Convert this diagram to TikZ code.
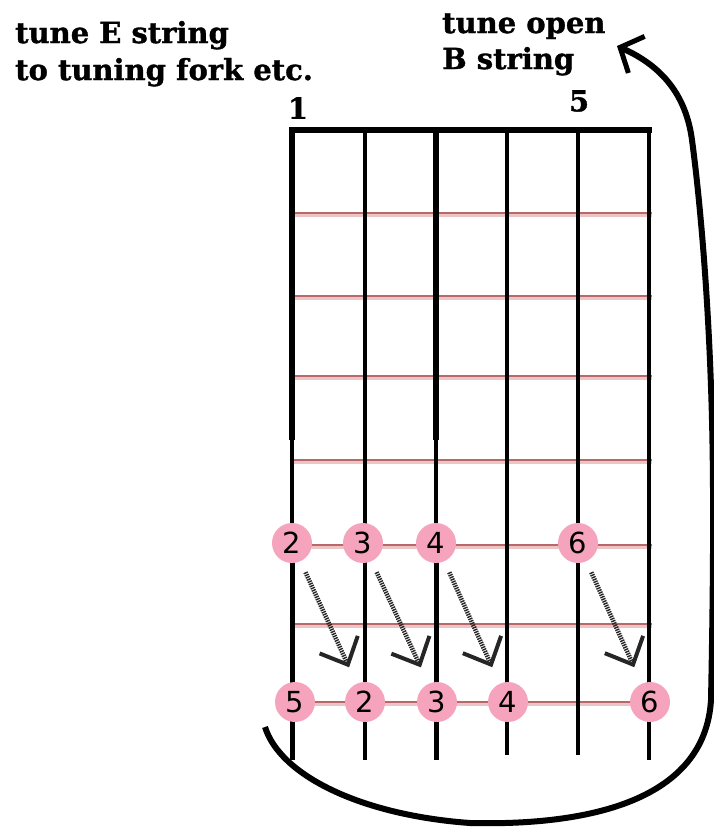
\documentclass[tikz,border=0pt]{standalone}
\usepackage{fontspec}
\usepackage{tikz}
\usetikzlibrary{arrows.meta}

\newfontfamily\notefont[FakeBold=1.2]{DejaVu Serif Bold}
\newfontfamily\dotfont{DejaVu Sans}

\definecolor{fretred}{RGB}{184,104,104}
\definecolor{fretpink}{RGB}{236,196,198}
\definecolor{dotpink}{RGB}{246,164,190}

\begin{document}
\begin{tikzpicture}[
    x=1pt, y=-1pt,
    note/.style={font=\notefont\fontsize{29}{29}\selectfont, inner sep=0pt},
    fret/.style={draw=fretred, line width=2pt,
        preaction={draw=fretpink, line width=4.5pt,
            transform canvas={yshift=-1.5pt}}},
    heavy/.style={line width=5.5pt},
    light/.style={line width=3.5pt},
    dot/.style={circle, fill=dotpink, minimum size=40pt, inner sep=0pt,
        font=\dotfont\fontsize{29}{29}\selectfont},
    hop/.style={black!85, line width=4.5pt, dash pattern=on 1.4pt off 1pt,
        -{Straight Barb[length=22pt, width=42pt, line width=4pt]},
        shorten <=12pt, shorten >=18pt},
    retune/.style={line width=6pt,
        -{Straight Barb[length=18pt, width=40pt, line width=5pt]}},
]

    \useasboundingbox (0,0) rectangle (714,828);

    % =============================================================
    % The notes on top
    % =============================================================
    \node[note, anchor=base west] (tuneE) at (15,43) {tune E string};
    \node[note, anchor=base west] (fork) at (15,80) {to tuning fork etc.};
    \node[note, anchor=base west] (tuneB) at (442,33) {tune open};
    \node[note, anchor=base west] (stringB) at (442,69) {B string};

    \node[note] (first) at (298,108) {1};
    \node[note] (fifth) at (579,101) {5};

    % =============================================================
    % The fretboard: frets first, strings over them
    % =============================================================
    \draw[fret] (292,213) -- (652,213);
    \draw[fret] (292,296) -- (652,296);
    \draw[fret] (292,376) -- (652,376);
    \draw[fret] (292,460) -- (652,460);
    \draw[fret] (292,545) -- (652,545);
    \draw[fret] (292,624) -- (652,624);
    \draw[fret] (292,702) -- (652,702);

    % thick strings 1 and 3, thinner below the fifth fret
    \draw[heavy] (292,130) -- (292,440);
    \draw[light] (292,440) -- (292,545);
    \draw[line width=5pt] (292,545) -- (292,760);
    \draw[heavy] (436,130) -- (436,440);
    \draw[light] (436,440) -- (436,545);
    \draw[line width=5pt] (436,545) -- (436,760);

    % the other strings
    \draw[line width=4pt] (365,130) -- (365,440);
    \draw[line width=3.2pt] (365,440) -- (365,760);
    \draw[line width=4pt] (507,130) -- (507,440);
    \draw[line width=3.2pt] (507,440) -- (507,755);
    \draw[line width=4pt] (578,130) -- (578,440);
    \draw[line width=3.2pt] (578,440) -- (578,755);
    \draw[line width=4pt] (649,130) -- (649,440);
    \draw[line width=3.2pt] (649,440) -- (649,760);

    % the nut
    \draw[line width=6pt] (289,130) -- (652,130);

    % =============================================================
    % Fingered notes and the matching open strings
    % =============================================================
    \node[dot] (up1) at (292,543) {2};
    \node[dot] (up2) at (363,543) {3};
    \node[dot] (up3) at (436,543) {4};
    \node[dot] (up5) at (578,543) {6};

    \node[dot] (low1) at (295,702) {5};
    \node[dot] (low2) at (365,702) {2};
    \node[dot] (low3) at (437,702) {3};
    \node[dot] (low4) at (508,702) {4};
    \node[dot] (low6) at (650,702) {6};

    \draw[hop] (up1) -- (low2);
    \draw[hop] (up2) -- (low3);
    \draw[hop] (up3) -- (low4);
    \draw[hop] (up5) -- (low6);

    % back round to the open B string
    \coordinate (tail) at (265,727);
    \coordinate (head) at (617,46);
    \draw[retune] (tail)
        .. controls (280,775) and (360,815) .. (470,823)
        .. controls (590,826) and (705,800) .. (711,700)
        .. controls (713,600) and (714,500) .. (712,420)
        .. controls (709,300) and (700,200) .. (692,140)
        .. controls (686,95) and (662,66) .. (head);

\end{tikzpicture}
\end{document}
